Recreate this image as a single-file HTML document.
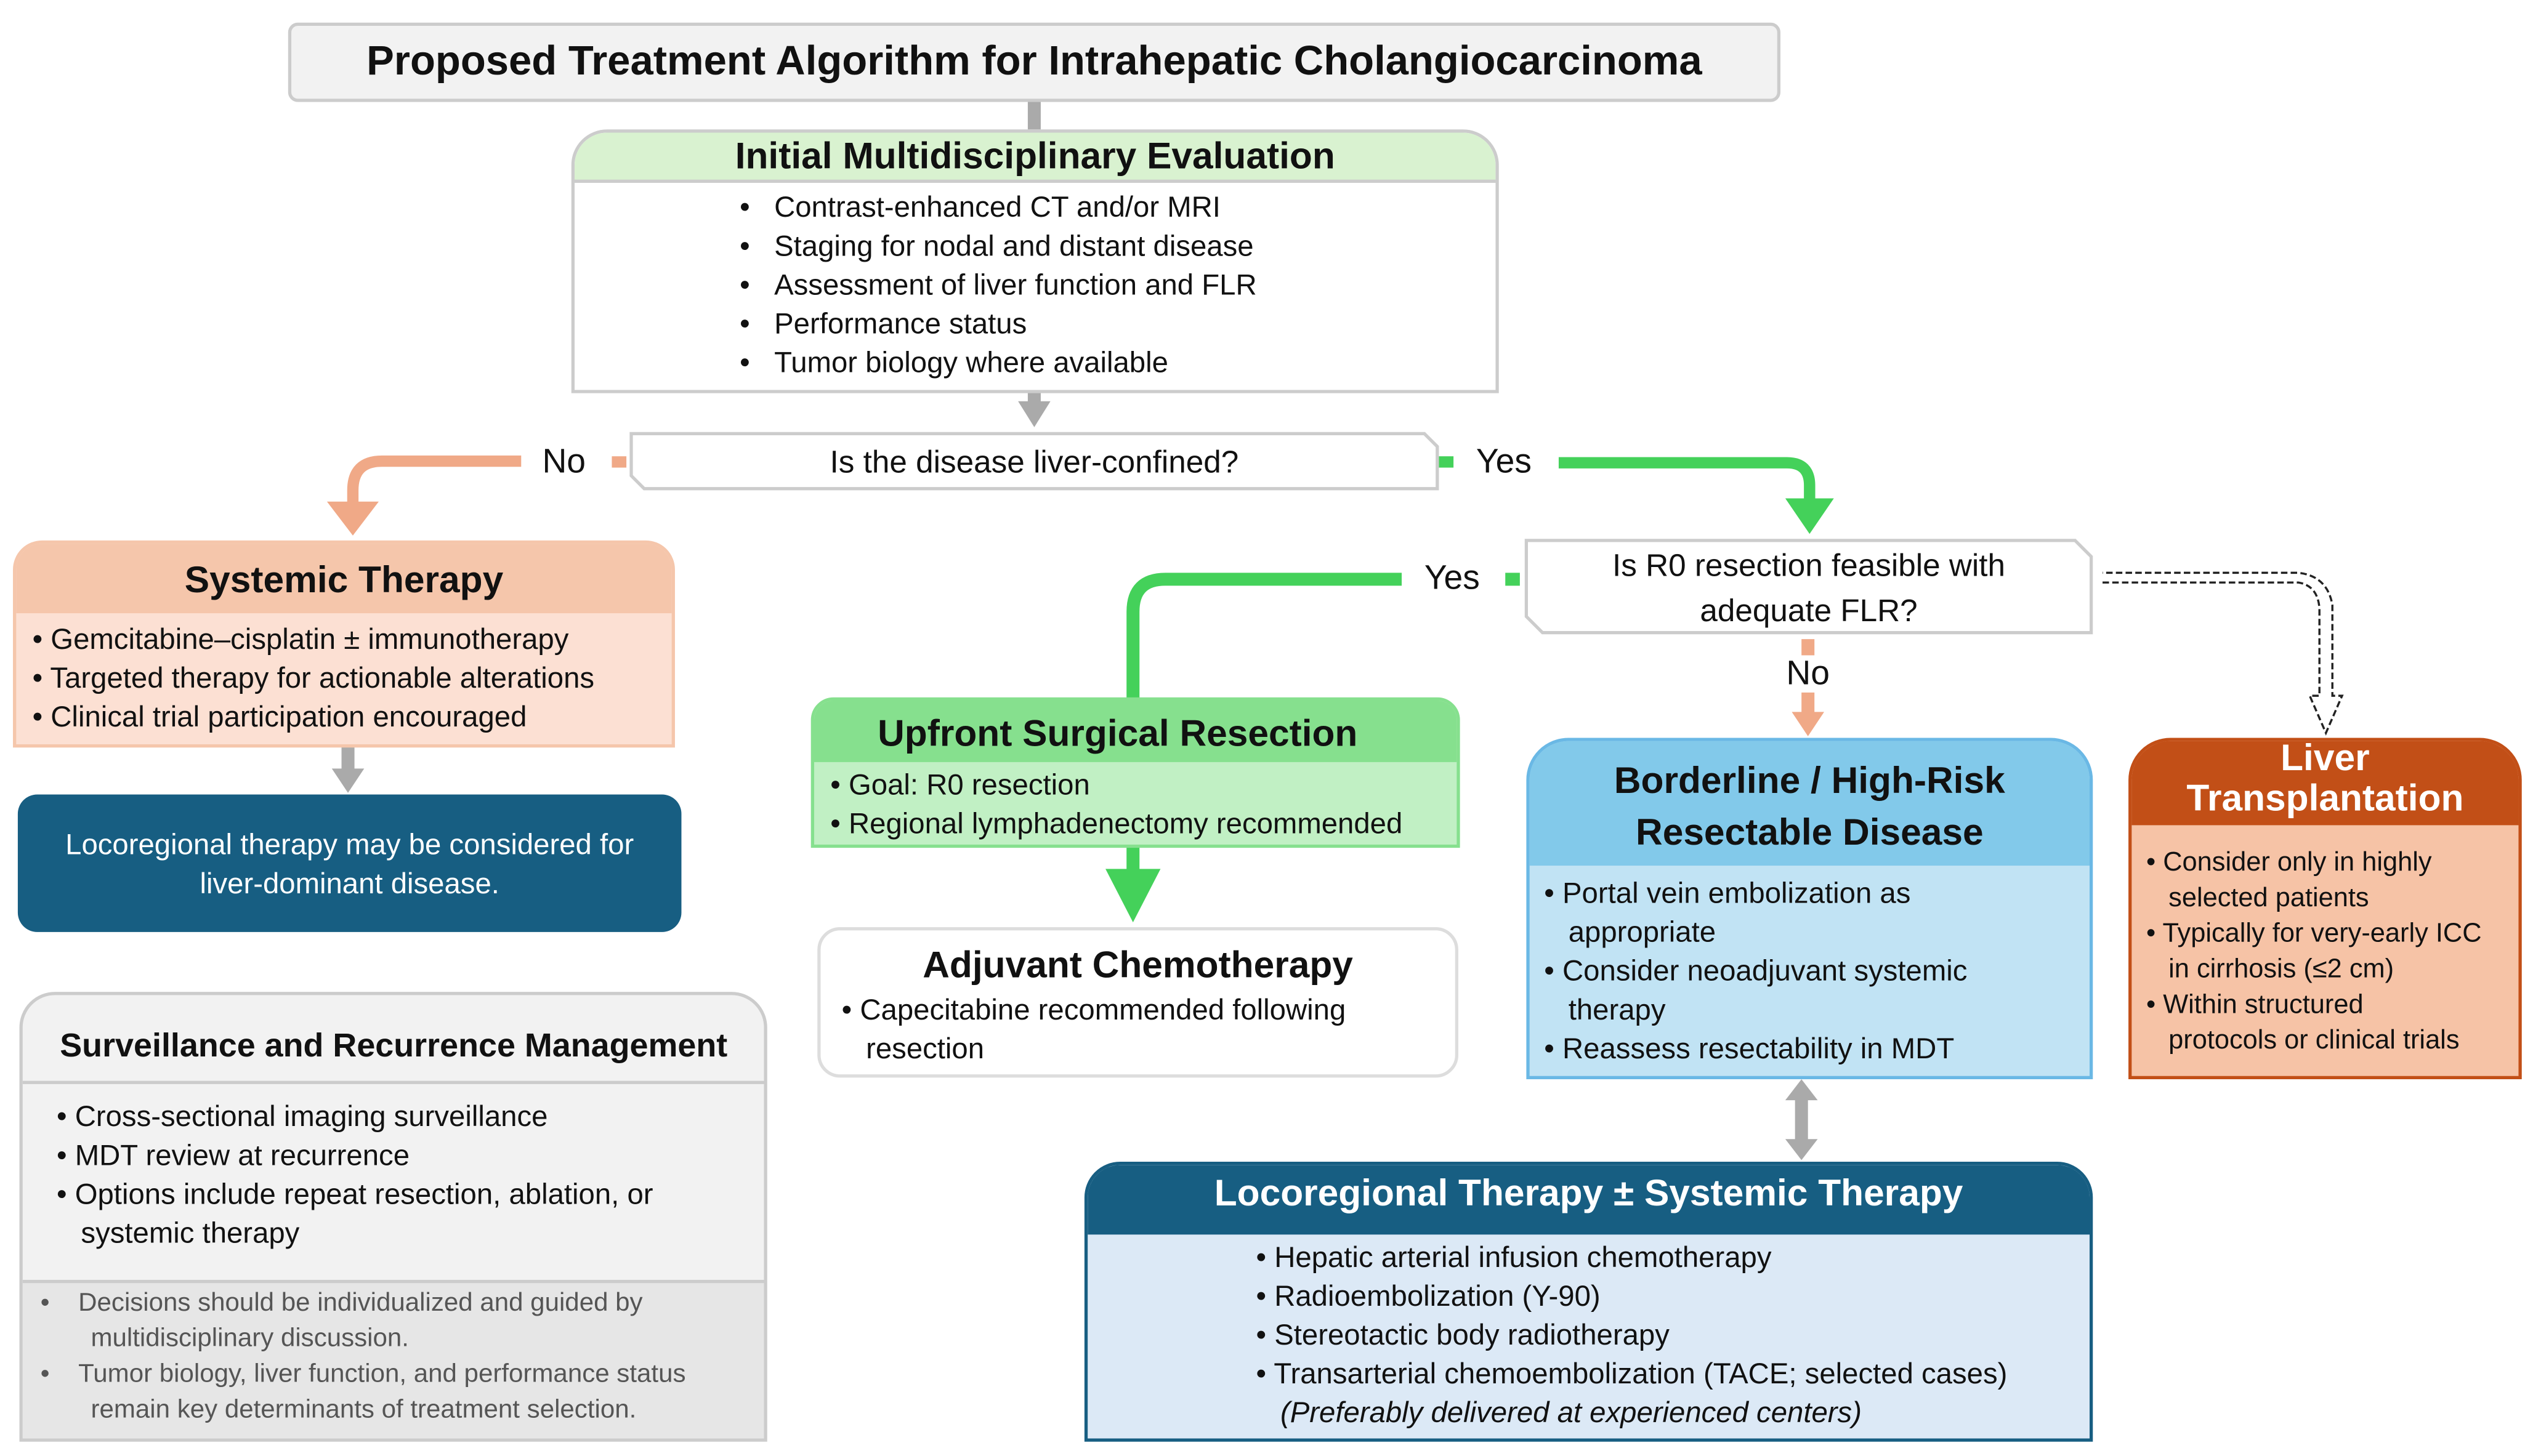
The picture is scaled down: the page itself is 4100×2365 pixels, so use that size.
<!DOCTYPE html>
<html><head><meta charset="utf-8"><style>
html,body{margin:0;padding:0;background:#fff;width:4100px;height:2365px;overflow:hidden}
#w{position:absolute;left:0;top:0;width:1560px;height:900px;transform:scale(2.6282);transform-origin:0 0;font-family:"Liberation Sans",sans-serif;color:#111}
.a{position:absolute;box-sizing:border-box}
.t{position:absolute;white-space:nowrap;font-size:18px;line-height:24px}
.b{font-weight:bold}
.c{text-align:center}
</style></head><body><div id="w">
<svg class="a" style="left:0;top:0" width="1560" height="900" viewBox="0 0 1560 900">
<rect x="635" y="62" width="8" height="18" fill="#aaa"/>
<rect x="635" y="242" width="8" height="8" fill="#aaa"/><polygon points="629,248 649,248 639,264" fill="#aaa"/>
<rect x="378" y="282" width="9" height="7" fill="#f0a987"/>
<path d="M322,285 H236 Q218,285 218,303 V314" stroke="#f0a987" stroke-width="7" fill="none"/>
<polygon points="202,310 234,310 218,331" fill="#f0a987"/>
<rect x="889" y="282" width="9" height="7" fill="#44d15a"/>
<path d="M963,286 H1104 Q1118,286 1118,300 V310" stroke="#44d15a" stroke-width="7" fill="none"/>
<polygon points="1103,308 1133,308 1118,330" fill="#44d15a"/>
<rect x="930" y="354" width="9" height="8" fill="#44d15a"/>
<path d="M866,358 H720 Q700,358 700,378 V432" stroke="#44d15a" stroke-width="8" fill="none"/>
<rect x="696" y="523" width="8" height="16" fill="#44d15a"/><polygon points="683,537 717,537 700,570" fill="#44d15a"/>
<rect x="211" y="461" width="8" height="16" fill="#aaa"/><polygon points="205,475 225,475 215,490" fill="#aaa"/>
<rect x="1113" y="395" width="8" height="10" fill="#f0a987"/>
<rect x="1113" y="428" width="8" height="14" fill="#f0a987"/><polygon points="1107,440 1127,440 1117,455" fill="#f0a987"/>
<path d="M1299,360 H1420 Q1432,362 1433,376 V430 H1427 L1437,453 L1447,430 H1441 V374 Q1438,356 1420,354 H1299" stroke="#222" stroke-width="1.3" stroke-dasharray="4,2" fill="#fff"/>
<rect x="1109" y="678" width="8" height="28" fill="#aaa"/>
<polygon points="1103,680 1123,680 1113,667" fill="#aaa"/><polygon points="1103,704 1123,704 1113,717" fill="#aaa"/>
<path d="M392,268 H880 L888,276 V302 H398 L390,294 V268Z" fill="#fff" stroke="#ccc" stroke-width="2"/>
<path d="M945,334 H1282 L1292,344 V391 H953 L943,381 V334Z" fill="#fff" stroke="#ccc" stroke-width="2"/>
</svg>

<div class="a" style="left:178px;top:14px;width:922px;height:49px;background:#f2f2f2;border:2px solid #ccc;border-radius:6px"></div>
<div class="t b c" style="left:178px;width:922px;top:24px;font-size:25.5px;line-height:28px">Proposed Treatment Algorithm for Intrahepatic Cholangiocarcinoma</div>

<div class="a" style="left:353px;top:80px;width:573px;height:163px;border:2px solid #ccc;border-radius:22px 22px 0 0;background:#fff;overflow:hidden"><div style="height:29px;background:#d9f2d0;border-bottom:2px solid #ccc"></div></div>
<div class="t b c" style="left:353px;width:573px;top:82px;font-size:23px;line-height:28px">Initial Multidisciplinary Evaluation</div>
<div class="t" style="left:457px;top:116px">•&nbsp;&nbsp;&nbsp;Contrast-enhanced CT and/or MRI<br>•&nbsp;&nbsp;&nbsp;Staging for nodal and distant disease<br>•&nbsp;&nbsp;&nbsp;Assessment of liver function and FLR<br>•&nbsp;&nbsp;&nbsp;Performance status<br>•&nbsp;&nbsp;&nbsp;Tumor biology where available</div>

<div class="t" style="left:335px;top:273px;font-size:21px;line-height:26px">No</div>
<div class="t c" style="left:390px;width:498px;top:273px;font-size:19.5px;line-height:26px">Is the disease liver-confined?</div>
<div class="t" style="left:912px;top:273px;font-size:21px;line-height:26px">Yes</div>

<div class="a" style="left:8px;top:334px;width:409px;height:128px;border:2px solid #f5c6ab;border-radius:18px 18px 0 0;background:#fce0d3;overflow:hidden"><div style="height:43px;background:#f5c6ab"></div></div>
<div class="t b c" style="left:8px;width:409px;top:344px;font-size:23px;line-height:28px">Systemic Therapy</div>
<div class="t" style="left:20px;top:383px">• Gemcitabine–cisplatin ± immunotherapy<br>• Targeted therapy for actionable alterations<br>• Clinical trial participation encouraged</div>

<div class="a" style="left:11px;top:491px;width:410px;height:85px;background:#175e82;border-radius:12px"></div>
<div class="t c" style="left:11px;width:410px;top:510px;color:#fff">Locoregional therapy may be considered for<br>liver-dominant disease.</div>

<div class="a" style="left:12px;top:613px;width:462px;height:278px;border:2px solid #ccc;border-radius:22px 22px 0 0;background:#f2f2f2;overflow:hidden"><div style="height:53px;border-bottom:2px solid #ccc"></div><div style="position:absolute;left:0;right:0;top:176px;bottom:0;background:#e6e6e6;border-top:2px solid #ccc"></div></div>
<div class="t b" style="left:37px;top:634px;font-size:20.5px;line-height:26px">Surveillance and Recurrence Management</div>
<div class="t" style="left:35px;top:678px">• Cross-sectional imaging surveillance<br>• MDT review at recurrence<br>• Options include repeat resection, ablation, or<br>&nbsp;&nbsp;&nbsp;systemic therapy</div>
<div class="t" style="left:25px;top:795px;font-size:16px;line-height:22px;color:#555">•&nbsp;&nbsp;&nbsp;&nbsp;Decisions should be individualized and guided by<br>&nbsp;&nbsp;&nbsp;&nbsp;&nbsp;&nbsp;&nbsp;multidisciplinary discussion.<br>•&nbsp;&nbsp;&nbsp;&nbsp;Tumor biology, liver function, and performance status<br>&nbsp;&nbsp;&nbsp;&nbsp;&nbsp;&nbsp;&nbsp;remain key determinants of treatment selection.</div>

<div class="t" style="left:880px;top:345px;font-size:21px;line-height:26px">Yes</div>
<div class="t c" style="left:943px;width:349px;top:336px;font-size:19.5px;line-height:28px">Is R0 resection feasible with<br>adequate FLR?</div>
<div class="t c" style="left:1097px;width:40px;top:404px;font-size:21px;line-height:26px">No</div>

<div class="a" style="left:501px;top:431px;width:401px;height:93px;border:2px solid #86e08e;border-radius:14px 14px 0 0;background:#c1f0c4;overflow:hidden"><div style="height:38px;background:#86e08e"></div></div>
<div class="t b c" style="left:480px;width:421px;top:439px;font-size:23px;line-height:28px">Upfront Surgical Resection</div>
<div class="t" style="left:513px;top:473px">• Goal: R0 resection<br>• Regional lymphadenectomy recommended</div>

<div class="a" style="left:505px;top:573px;width:396px;height:93px;border:2px solid #ddd;border-radius:14px;background:#fff"></div>
<div class="t b c" style="left:505px;width:396px;top:582px;font-size:23px;line-height:28px">Adjuvant Chemotherapy</div>
<div class="t" style="left:520px;top:612px">• Capecitabine recommended following<br>&nbsp;&nbsp;&nbsp;resection</div>

<div class="a" style="left:943px;top:456px;width:350px;height:211px;border:2px solid #6ab8e5;border-radius:26px 26px 0 0;background:#c1e3f4;overflow:hidden"><div style="height:77px;background:#82c9ea"></div></div>
<div class="t b c" style="left:943px;width:350px;top:466px;font-size:23px;line-height:32px">Borderline / High-Risk<br>Resectable Disease</div>
<div class="t" style="left:954px;top:540px">• Portal vein embolization as<br>&nbsp;&nbsp;&nbsp;appropriate<br>• Consider neoadjuvant systemic<br>&nbsp;&nbsp;&nbsp;therapy<br>• Reassess resectability in MDT</div>

<div class="a" style="left:1315px;top:456px;width:243px;height:211px;border:2px solid #c24f17;border-radius:26px 26px 0 0;background:#f6c3a6;overflow:hidden"><div style="height:52px;background:#c24f17"></div></div>
<div class="t b c" style="left:1315px;width:243px;top:456px;font-size:23px;line-height:25px;color:#fff">Liver<br>Transplantation</div>
<div class="t" style="left:1326px;top:522px;font-size:16.5px;line-height:22px">• Consider only in highly<br>&nbsp;&nbsp;&nbsp;selected patients<br>• Typically for very-early ICC<br>&nbsp;&nbsp;&nbsp;in cirrhosis (≤2 cm)<br>• Within structured<br>&nbsp;&nbsp;&nbsp;protocols or clinical trials</div>

<div class="a" style="left:670px;top:718px;width:623px;height:173px;border:2px solid #175e82;border-radius:22px 22px 0 0;background:#dce9f6;overflow:hidden"><div style="height:43px;background:#175e82"></div></div>
<div class="t b c" style="left:670px;width:623px;top:723px;font-size:23px;line-height:28px;color:#fff">Locoregional Therapy ± Systemic Therapy</div>
<div class="t" style="left:776px;top:765px">• Hepatic arterial infusion chemotherapy<br>• Radioembolization (Y-90)<br>• Stereotactic body radiotherapy<br>• Transarterial chemoembolization (TACE; selected cases)<br>&nbsp;&nbsp;&nbsp;<i>(Preferably delivered at experienced centers)</i></div>
</div></body></html>
